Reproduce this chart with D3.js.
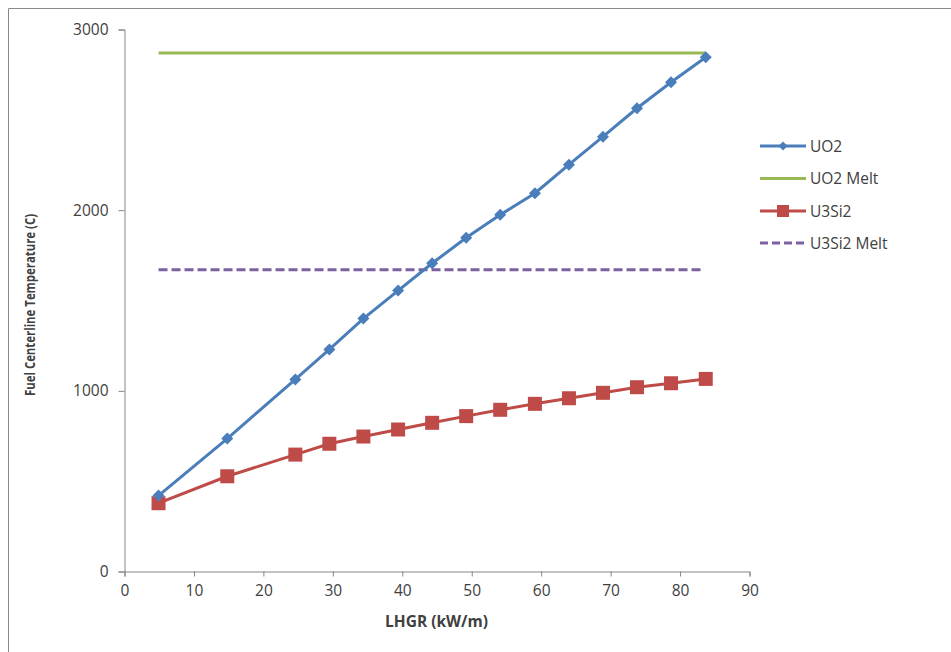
<!DOCTYPE html>
<html>
<head>
<meta charset="utf-8">
<script src="https://cdn.jsdelivr.net/npm/d3@7"></script>
<style>
  body { margin: 0; background: #fff; }
  text { font-family: "Open Sans", sans-serif; fill: #404040; }
</style>
</head>
<body>
<div id="chart"></div>
<script>
var svgWidth = 951;
var svgHeight = 652;

// LHGR values (kW/m)
var lhgr = [4.9, 14.8, 24.6, 29.5, 34.4, 39.4, 44.3, 49.2, 54.1, 59.1, 64.0, 68.9, 73.8, 78.7, 83.7];
// centerline temperatures (C)
var uo2 = [420, 736, 1063, 1229, 1400, 1555, 1706, 1847, 1974, 2094, 2252, 2407, 2564, 2708, 2846];
var u3si2 = [378, 527, 647, 707, 747, 786, 823, 860, 895, 928, 959, 989, 1020, 1042, 1066];
var uo2Melt = 2870;
var u3si2Melt = 1670;

var xTicks = [0, 10, 20, 30, 40, 50, 60, 70, 80, 90];
var yTicks = [0, 1000, 2000, 3000];
var seriesNames = ["UO2", "UO2 Melt", "U3Si2", "U3Si2 Melt"];

var colors = {
    "UO2": "#4a7ebb",
    "UO2 Melt": "#98b954",
    "U3Si2": "#be4b48",
    "U3Si2 Melt": "#7d60a0"
};

var svg = d3.select("#chart")
    .append("svg")
    .attr("width", svgWidth)
    .attr("height", svgHeight);

// chart area border (cut off at right and bottom)
svg.append("path")
    .attr("d", "M8.5,660V8.5H960")
    .attr("fill", "none")
    .attr("stroke", "#8a8a8a")
    .attr("stroke-width", 1);

var x = d3.scaleLinear().domain([0, 90]).range([124.5, 749.5]);
var y = d3.scaleLinear().domain([0, 3000]).range([571.5, 29.5]);

// axes
var xAxis = svg.append("g")
    .attr("transform", "translate(0," + y(0) + ")")
    .call(d3.axisBottom(x).tickValues(xTicks).tickSize(5).tickPadding(8));

var yAxis = svg.append("g")
    .attr("transform", "translate(" + x(0) + ",0)")
    .call(d3.axisLeft(y).tickValues(yTicks).tickSize(6).tickPadding(10).tickFormat(d3.format("d")));

[xAxis, yAxis].forEach(function (g) {
    g.selectAll("path, line").attr("stroke", "#868686");
    g.selectAll("text")
        .style("font-family", "'Open Sans', sans-serif")
        .style("font-size", "15.5px")
        .attr("fill", "#404040");
});

// melt lines
var first = lhgr[0];
var last = lhgr[lhgr.length - 1];

svg.append("line")
    .attr("x1", x(first)).attr("x2", x(last))
    .attr("y1", y(uo2Melt)).attr("y2", y(uo2Melt))
    .attr("stroke", colors["UO2 Melt"])
    .attr("stroke-width", 3);

svg.append("line")
    .attr("x1", x(first)).attr("x2", x(last) - 2)
    .attr("y1", y(u3si2Melt)).attr("y2", y(u3si2Melt))
    .attr("stroke", colors["U3Si2 Melt"])
    .attr("stroke-width", 3)
    .attr("stroke-dasharray", "9,4");

var line = d3.line()
    .x(function (d) { return x(d[0]); })
    .y(function (d) { return y(d[1]); });

var uo2Data = lhgr.map(function (v, i) { return [v, uo2[i]]; });
var u3si2Data = lhgr.map(function (v, i) { return [v, u3si2[i]]; });

// U3Si2 series
svg.append("path")
    .datum(u3si2Data)
    .attr("d", line)
    .attr("fill", "none")
    .attr("stroke", colors["U3Si2"])
    .attr("stroke-width", 3);

svg.selectAll(".sq")
    .data(u3si2Data)
    .enter()
    .append("rect")
    .attr("class", "sq")
    .attr("x", function (d) { return x(d[0]) - 7; })
    .attr("y", function (d) { return y(d[1]) - 7; })
    .attr("width", 14)
    .attr("height", 14)
    .attr("fill", colors["U3Si2"]);

// UO2 series
svg.append("path")
    .datum(uo2Data)
    .attr("d", line)
    .attr("fill", "none")
    .attr("stroke", colors["UO2"])
    .attr("stroke-width", 3);

var diamond = d3.symbol().type(d3.symbolSquare).size(72);

svg.selectAll(".dm")
    .data(uo2Data)
    .enter()
    .append("path")
    .attr("class", "dm")
    .attr("d", diamond)
    .attr("transform", function (d) {
        return "translate(" + x(d[0]) + "," + y(d[1]) + ") rotate(45)";
    })
    .attr("fill", colors["UO2"]);

// axis titles
svg.append("text")
    .attr("transform", "translate(35,305) rotate(-90)")
    .attr("text-anchor", "middle")
    .attr("textLength", 182)
    .attr("lengthAdjust", "spacingAndGlyphs")
    .style("font-size", "13.5px")
    .style("font-weight", "bold")
    .attr("fill", "#222")
    .text("Fuel Centerline Temperature (C)");

svg.append("text")
    .attr("x", 436.5)
    .attr("y", 627)
    .attr("text-anchor", "middle")
    .style("font-size", "15.5px")
    .style("font-weight", "bold")
    .attr("fill", "#222")
    .text("LHGR (kW/m)");

// legend
var legend = svg.append("g");
var rowY = [146, 178.5, 211, 243];

seriesNames.forEach(function (name, i) {
    var row = legend.append("g").attr("transform", "translate(0," + rowY[i] + ")");
    var ln = row.append("line")
        .attr("x1", 760).attr("x2", 806)
        .attr("stroke", colors[name])
        .attr("stroke-width", 3);
    if (name === "U3Si2 Melt") ln.attr("stroke-dasharray", "8,4");
    if (name === "UO2") {
        row.append("path")
            .attr("d", d3.symbol().type(d3.symbolSquare).size(40))
            .attr("transform", "translate(783,0) rotate(45)")
            .attr("fill", colors[name]);
    }
    if (name === "U3Si2") {
        row.append("rect")
            .attr("x", 777).attr("y", -6)
            .attr("width", 12).attr("height", 12)
            .attr("fill", colors[name]);
    }
    row.append("text")
        .attr("x", 810)
        .attr("y", 5.5)
        .style("font-size", "15.5px")
        .text(name);
});
</script>
</body>
</html>
